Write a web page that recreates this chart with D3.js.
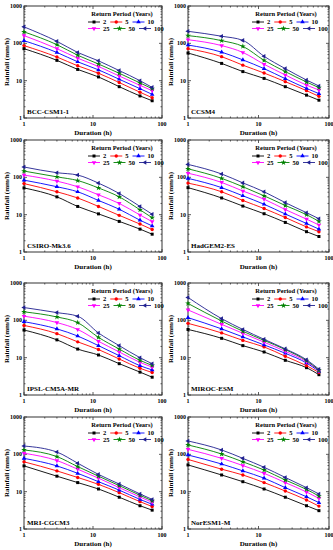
<!DOCTYPE html>
<html><head><meta charset="utf-8">
<script src="https://cdn.jsdelivr.net/npm/d3@7"></script>
<style>html,body{margin:0;padding:0;background:#fff;}svg{display:block;}</style>
</head><body>
<script>
const durations = [1, 3, 6, 12, 24, 48, 72];
const periods = ["2", "5", "10", "25", "50", "100"];
const xTicks = [1, 10, 100];
const yTicks = [1, 10, 100, 1000];
const models = ["BCC-CSM1-1", "CCSM4", "CSIRO-Mk3.6", "HadGEM2-ES", "IPSL-CM5A-MR", "MIROC-ESM", "MRI-CGCM3", "NorESM1-M"];

// values per return period (2,5,10,25,50,100), each over durations
const bccCsm11 = [
  [72, 35, 20, 12.6, 6.9, 3.9, 2.9],
  [87, 43, 25, 15.8, 8.9, 4.9, 3.5],
  [118, 57, 32, 19.5, 10.9, 6.1, 4.3],
  [161, 72, 40, 24, 13.3, 7.5, 5.4],
  [203, 92, 48, 28, 15.8, 8.7, 6.1],
  [276, 113, 57, 34, 18.6, 10, 6.6]
];
const ccsm4 = [
  [55, 29, 17.5, 11.5, 6.9, 4.1, 3.0],
  [72, 44, 26, 16, 9.4, 5.4, 3.8],
  [90, 58, 36, 21, 11.3, 6.2, 4.5],
  [125, 87, 57, 27.5, 14.2, 7.6, 5.6],
  [161, 118, 83, 35, 17.5, 9.2, 6.5],
  [210, 155, 120, 45, 21, 10.4, 7.2]
];
const csiroMk36 = [
  [52, 30, 16.6, 10.5, 6.6, 4.1, 3.0],
  [68, 41, 28, 16.6, 9.6, 5.6, 4.0],
  [84, 56, 41, 24, 14, 7.1, 5.0],
  [115, 79, 56, 34, 20, 9.8, 6.5],
  [147, 103, 82, 52, 30, 13.5, 8.3],
  [189, 133, 115, 70, 37, 16.6, 10.3]
];
const hadgem2Es = [
  [53, 28, 17, 10.6, 6.2, 3.5, 2.6],
  [70, 41, 24, 14.6, 8.4, 4.7, 3.5],
  [94, 53, 32, 19, 10.4, 5.8, 4.1],
  [129, 73, 43, 26, 13.7, 7.6, 5.3],
  [169, 94, 56, 32, 17.6, 10, 6.6],
  [222, 123, 71, 41, 21, 11.3, 7.8]
];
const ipslCm5aMr = [
  [55, 30, 17, 11.8, 6.9, 4.1, 3.0],
  [73, 44, 26.5, 16.5, 9.2, 5.2, 4.0],
  [92, 59, 38, 21, 11.3, 6.1, 4.7],
  [129, 87, 57, 27.5, 14.2, 7.5, 5.6],
  [169, 123, 87, 35, 17, 8.5, 6.2],
  [220, 161, 129, 46, 21, 10, 6.9]
];
const mirocEsm = [
  [57, 33, 21, 14.2, 8.5, 5.4, 3.5],
  [83, 46, 29, 19.4, 10.9, 6.1, 4.0],
  [118, 59, 36, 22, 13.1, 7.2, 4.3],
  [190, 78, 45, 26, 14.8, 7.8, 4.5],
  [283, 96, 51, 29, 16.5, 8.3, 4.6],
  [410, 111, 57, 31, 17.2, 8.8, 4.9]
];
const mriCgcm3 = [
  [49, 26, 17.5, 11.8, 7.1, 4.2, 3.2],
  [63, 36, 24, 15.7, 9.4, 5.4, 4.0],
  [78, 49, 31, 18.5, 11, 6.2, 4.6],
  [107, 68, 40, 23, 12.8, 7.2, 5.2],
  [131, 87, 47, 26, 14.5, 8.0, 5.7],
  [167, 115, 58, 29, 16, 8.7, 6.2]
];
const noresm1M = [
  [52, 28, 18.5, 11.8, 7.1, 4.2, 3.1],
  [73, 40, 28, 17.5, 10.4, 6.0, 4.1],
  [96, 55, 36, 23, 12.8, 7.3, 5.1],
  [136, 78, 50, 31, 17.5, 9.8, 6.6],
  [178, 102, 63, 38, 20.5, 11.5, 7.6],
  [228, 131, 78, 45, 24, 12.8, 8.7]
];
const modelData = [bccCsm11, ccsm4, csiroMk36, hadgem2Es, ipslCm5aMr, mirocEsm, mriCgcm3, noresm1M];

const colors = ["#000000", "#ff0000", "#0000ff", "#ff00ff", "#008000", "#202090"];
const symbols = [d3.symbolSquare, d3.symbolCircle, d3.symbolTriangle, d3.symbolTriangle, d3.symbolStar, d3.symbolTriangle];
const rotations = [0, 0, 0, 180, 0, -90];
const symSizes = [9, 9, 9, 9, 10, 9];

const W = 333, H = 550;
const svg = d3.select("body").append("svg").attr("width", W).attr("height", H);
const font = "'Liberation Serif', 'Times New Roman', serif";

const colX = [[24, 162], [188, 329]];
const rowTop = [6, 140, 283, 417];
const plotH = 112;

function drawPanel(i) {
  const c = i % 2, r = Math.floor(i / 2);
  const x0 = colX[c][0], x1 = colX[c][1];
  const y0 = rowTop[r], y1 = rowTop[r] + plotH;
  const x = d3.scaleLog().domain([1, 100]).range([x0, x1]);
  const y = d3.scaleLog().domain([1, 1000]).range([y1, y0]);
  const g = svg.append("g");

  // minor + major ticks (inward, all four sides)
  const xMinor = [];
  for (let d = 1; d < 100; d *= 10) for (let k = 2; k <= 9; k++) xMinor.push(d * k);
  const yMinor = [];
  for (let d = 1; d < 1000; d *= 10) for (let k = 2; k <= 9; k++) yMinor.push(d * k);
  const tk = g.append("g").attr("stroke", "#333").attr("stroke-width", 0.8);
  xMinor.forEach(v => {
    tk.append("line").attr("x1", x(v)).attr("x2", x(v)).attr("y1", y1).attr("y2", y1 - 1.5);
    tk.append("line").attr("x1", x(v)).attr("x2", x(v)).attr("y1", y0).attr("y2", y0 + 1.5);
  });
  xTicks.forEach(v => {
    tk.append("line").attr("x1", x(v)).attr("x2", x(v)).attr("y1", y1).attr("y2", y1 - 3);
    tk.append("line").attr("x1", x(v)).attr("x2", x(v)).attr("y1", y0).attr("y2", y0 + 3);
  });
  yMinor.forEach(v => {
    tk.append("line").attr("x1", x0).attr("x2", x0 + 1.5).attr("y1", y(v)).attr("y2", y(v));
    tk.append("line").attr("x1", x1).attr("x2", x1 - 1.5).attr("y1", y(v)).attr("y2", y(v));
  });
  yTicks.forEach(v => {
    tk.append("line").attr("x1", x0).attr("x2", x0 + 3).attr("y1", y(v)).attr("y2", y(v));
    tk.append("line").attr("x1", x1).attr("x2", x1 - 3).attr("y1", y(v)).attr("y2", y(v));
  });

  g.append("rect").attr("x", x0).attr("y", y0).attr("width", x1 - x0).attr("height", y1 - y0)
    .attr("fill", "none").attr("stroke", "#333").attr("stroke-width", 1);

  // tick labels
  xTicks.forEach(v => {
    g.append("text").attr("x", x(v)).attr("y", y1 + 8).attr("text-anchor", "middle")
      .attr("font-family", font).attr("font-weight", "bold").attr("font-size", 6).text(v);
  });
  yTicks.forEach(v => {
    g.append("text").attr("x", x0 - 2).attr("y", y(v) + 2).attr("text-anchor", "end")
      .attr("font-family", font).attr("font-weight", "bold").attr("font-size", 6).text(v);
  });
  g.append("text").attr("x", (x0 + x1) / 2).attr("y", y1 + 17).attr("text-anchor", "middle")
    .attr("font-family", font).attr("font-weight", "bold").attr("font-size", 7).text("Duration (h)");
  g.append("text").attr("transform", `translate(${x0 - 15},${(y0 + y1) / 2}) rotate(-90)`)
    .attr("text-anchor", "middle").attr("font-family", font).attr("font-weight", "bold")
    .attr("font-size", 7).text("Rainfall (mm/h)");

  // series
  const line = d3.line().x(d => x(d[0])).y(d => y(d[1])).curve(d3.curveMonotoneX);
  const data = modelData[i];
  data.forEach((vals, s) => {
    const pts = durations.map((d, k) => [d, vals[k]]);
    g.append("path").attr("d", line(pts)).attr("fill", "none").attr("stroke", colors[s]).attr("stroke-width", 0.9);
    pts.forEach(p => {
      g.append("path").attr("d", d3.symbol().type(symbols[s]).size(symSizes[s])())
        .attr("transform", `translate(${x(p[0])},${y(p[1])}) rotate(${rotations[s]})`)
        .attr("fill", colors[s]);
    });
  });

  // panel label
  g.append("text").attr("x", x0 + 3).attr("y", y1 - 4).attr("font-family", font).attr("font-weight", "bold")
    .attr("font-size", 7).text(models[i]);

  // legend
  const lg = g.append("g");
  lg.append("text").attr("x", x0 + 98).attr("y", y0 + 10).attr("text-anchor", "middle")
    .attr("font-family", font).attr("font-weight", "bold").attr("font-size", 6.5).text("Return Period (Years)");
  [[0, 1, 2], [3, 4, 5]].forEach((row, ri) => {
    let cx = x0 + 64;
    const ly = y0 + 16 + ri * 6.5;
    row.forEach(s => {
      lg.append("line").attr("x1", cx).attr("x2", cx + 12).attr("y1", ly).attr("y2", ly)
        .attr("stroke", colors[s]).attr("stroke-width", 0.9);
      lg.append("path").attr("d", d3.symbol().type(symbols[s]).size(symSizes[s])())
        .attr("transform", `translate(${cx + 6},${ly}) rotate(${rotations[s]})`).attr("fill", colors[s]);
      const t = lg.append("text").attr("x", cx + 15).attr("y", ly + 2).attr("font-family", font)
        .attr("font-weight", "bold").attr("font-size", 6.5).text(periods[s]);
      cx += 15 + t.node().getComputedTextLength() + 4;
    });
  });
}

for (let i = 0; i < 8; i++) drawPanel(i);
</script>
</body></html>
